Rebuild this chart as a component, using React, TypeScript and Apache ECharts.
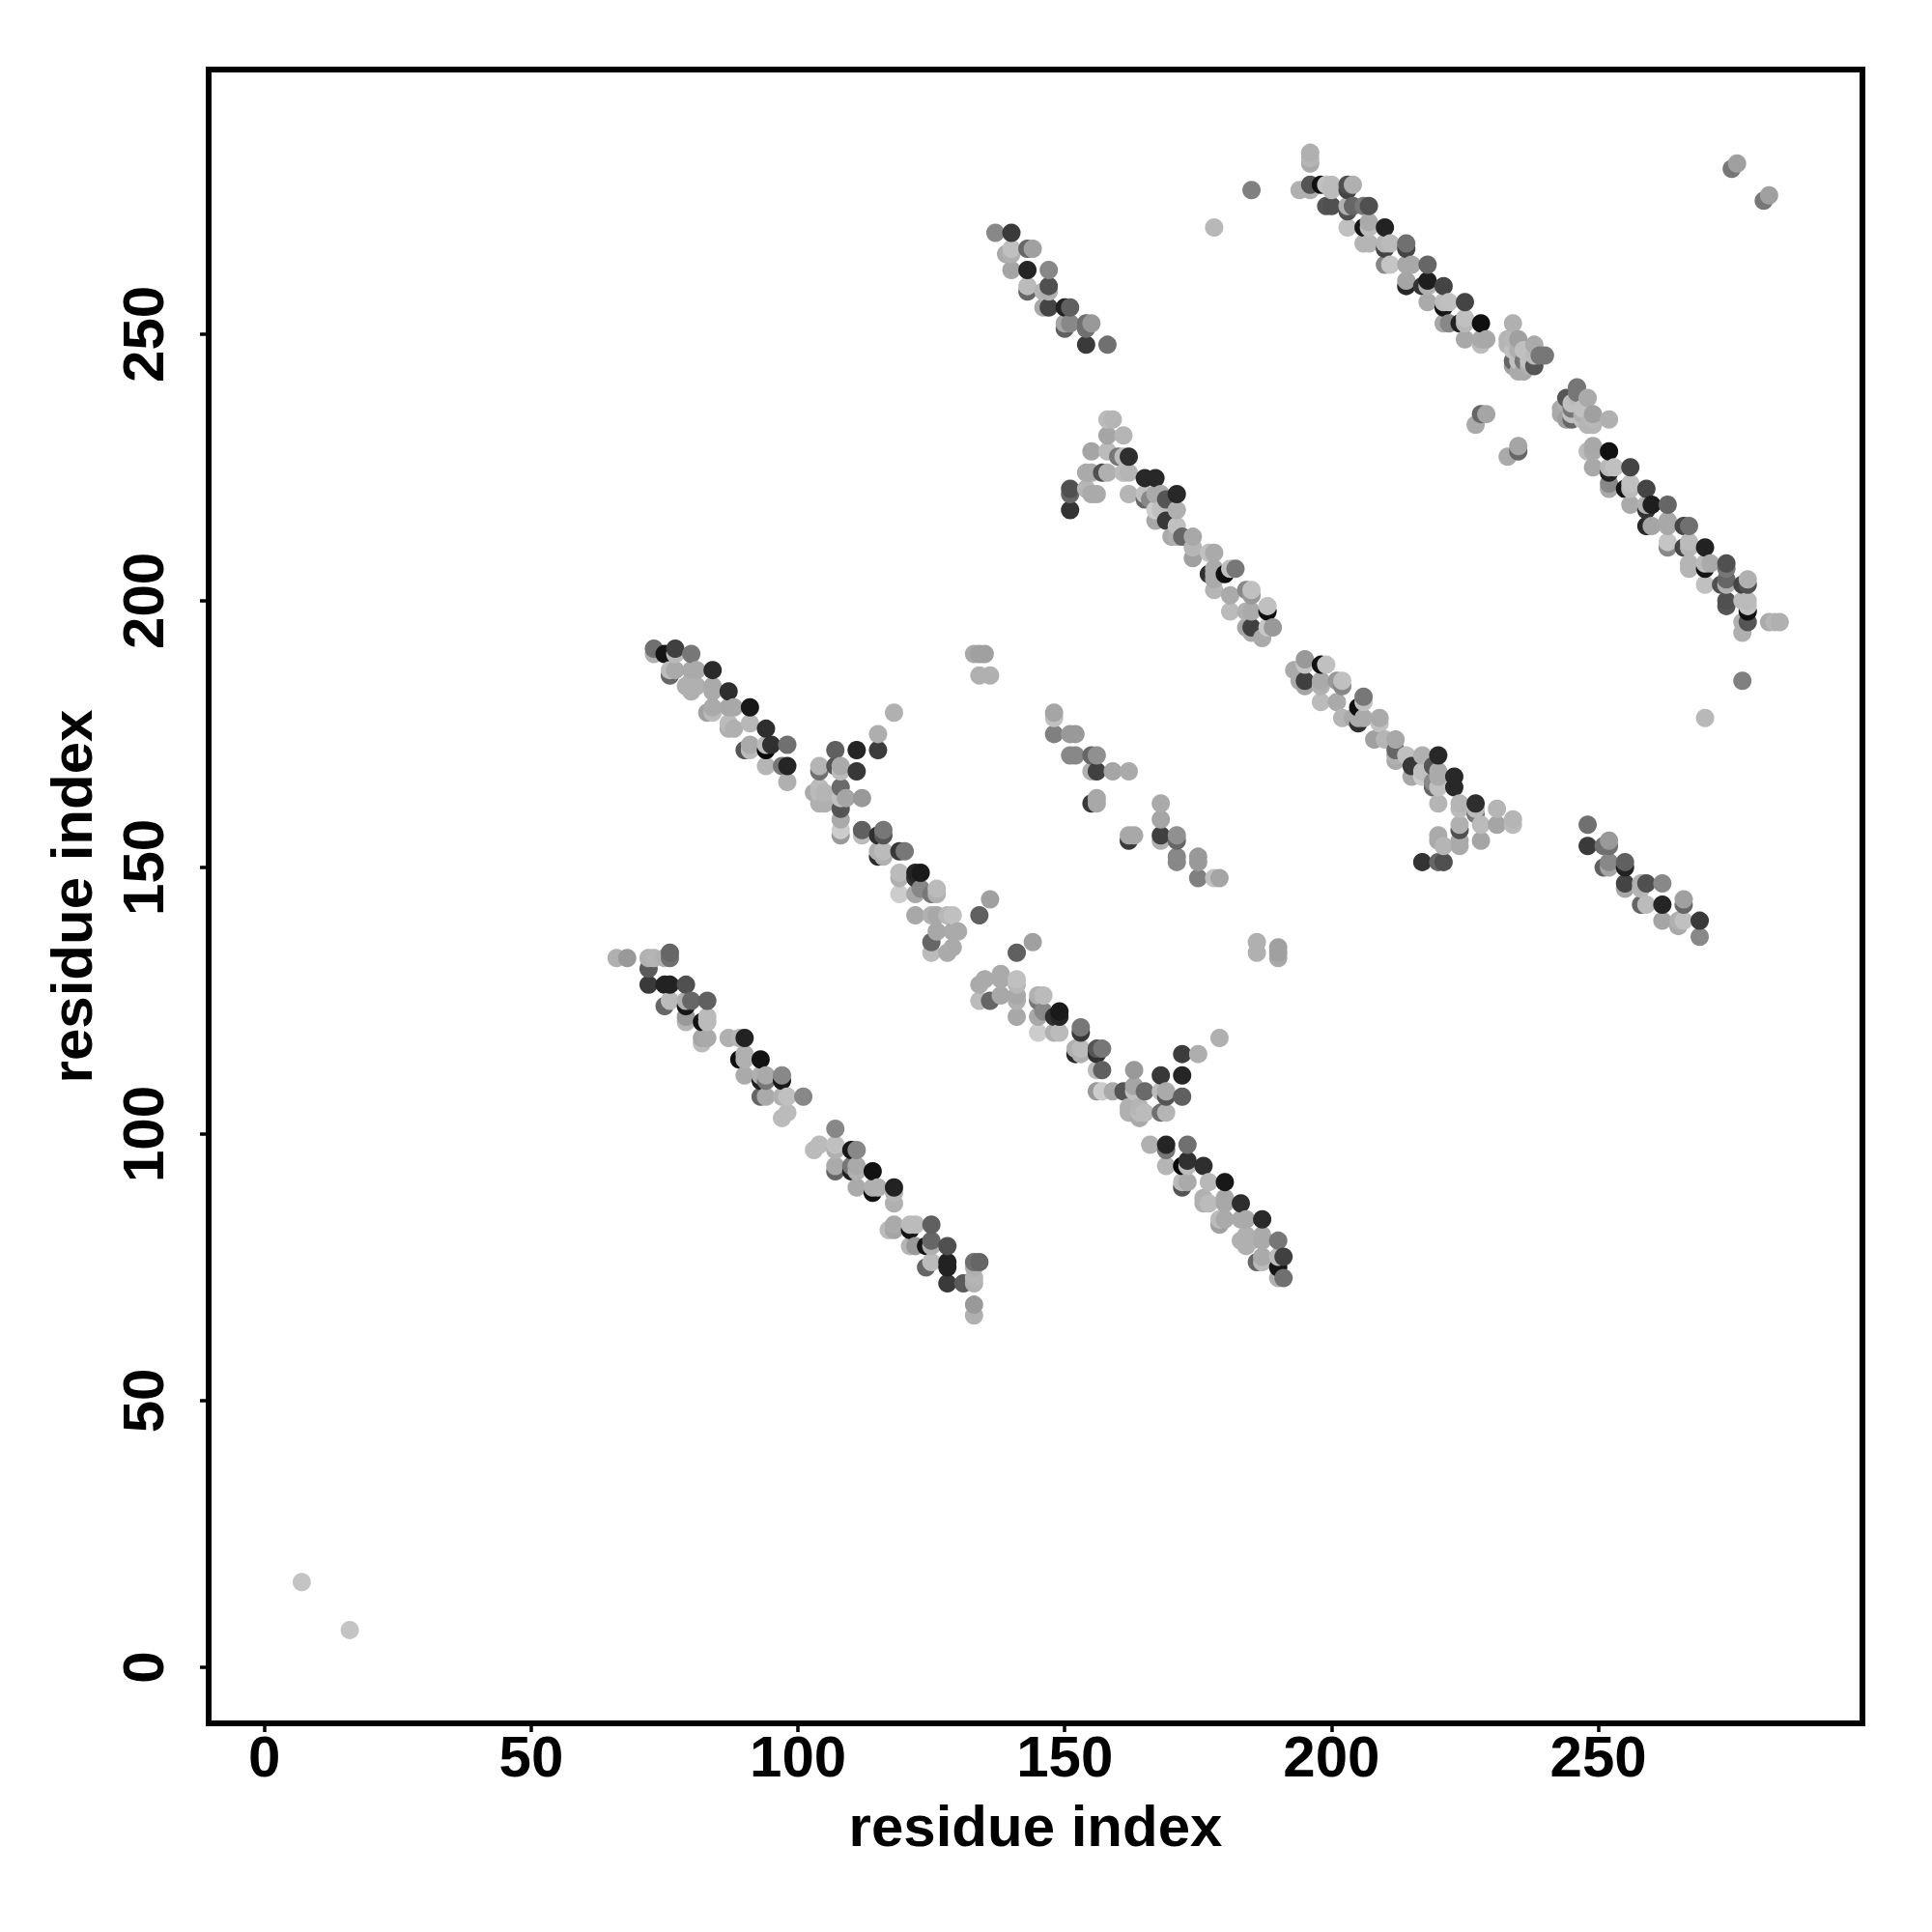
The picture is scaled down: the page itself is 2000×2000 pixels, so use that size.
import React, { useEffect, useRef } from "react";
import * as echarts from "echarts";

// Each entry: [residue i, residue j, grey shade 0-255]. The contact map is symmetric,
// so each contact read from the upper-left half is drawn at (i,j) and (j,i).
type Contact = [number, number, number];

const tickValues = [0, 50, 100, 150, 200, 250];
const axisName = "residue index";

const isolated: Contact[] = [
  [7, 16, 0xc4], [185, 277, 0x80], [178, 270, 0xb8], [275, 281, 0x77], [276, 282, 0xa0],
  [133, 190, 0xa8], [134, 190, 0xa0], [135, 190, 0xa0], [134, 186, 0xb0], [136, 186, 0xb0],
  [196, 284, 0xb0], [196, 283, 0xb5], [196, 282, 0xaa],
];

const helixA: Contact[] = [
  [66, 133, 0xb0], [68, 133, 0x99], [72, 133, 0xb0], [73, 133, 0xb4], [75, 133, 0xb0], [76, 133, 0x70], [76, 134, 0x66],
  [72, 131, 0x5a], [72, 128, 0x3a], [75, 128, 0x22], [76, 128, 0x22], [79, 128, 0x50],
  [75, 124, 0x66], [76, 125, 0xbb], [79, 124, 0x15], [79, 125, 0xb0], [80, 125, 0x66], [83, 125, 0x60],
  [79, 122, 0x99], [79, 121, 0xb5], [82, 121, 0x15], [83, 121, 0xbb], [83, 122, 0xbb],
  [82, 118, 0xa5], [82, 117, 0xbb], [83, 118, 0xaa], [87, 118, 0xb0], [89, 118, 0xb5], [90, 118, 0x22],
  [89, 114, 0x10], [90, 115, 0xb0], [90, 114, 0xb0], [93, 114, 0x12], [90, 111, 0xaa],
  [93, 110, 0x20], [93, 111, 0xb0], [94, 110, 0x77], [94, 111, 0xaa], [97, 110, 0x18], [97, 111, 0x88],
  [93, 107, 0x66], [94, 107, 0xaa], [97, 107, 0xb0], [98, 107, 0xc0], [101, 107, 0x88],
  [97, 103, 0xbb], [98, 104, 0xbb],
];

const helixB: Contact[] = [
  [73, 190, 0xb0], [73, 191, 0x70], [75, 190, 0x15], [77, 190, 0xbb], [77, 191, 0x40], [80, 190, 0x77],
  [76, 186, 0x66], [76, 187, 0xbb], [77, 187, 0xaa], [80, 187, 0xaa], [81, 187, 0xaa], [84, 187, 0x2a],
  [80, 185, 0xb0], [80, 183, 0xb0], [79, 184, 0xb0], [81, 184, 0xb0], [84, 183, 0xaa], [84, 184, 0xaa], [87, 183, 0x2e],
  [83, 179, 0xa0], [84, 179, 0xbb], [84, 180, 0xaa], [87, 180, 0xa8], [88, 180, 0xa8], [91, 180, 0x18],
  [87, 176, 0xb0], [87, 177, 0xbb], [88, 176, 0xb0], [91, 177, 0xb8], [94, 176, 0x2e],
  [90, 172, 0x55], [91, 172, 0xbb], [91, 173, 0xaa], [94, 172, 0x08], [94, 173, 0xbb], [95, 173, 0x30], [98, 173, 0x70],
  [94, 169, 0xb5], [97, 169, 0x77], [98, 169, 0x25], [98, 166, 0xb0],
  [118, 179, 0xb0], [115, 175, 0xae], [107, 172, 0x60], [111, 172, 0x25], [115, 172, 0x3c],
  [104, 168, 0x70], [104, 169, 0xb5], [107, 169, 0x55], [108, 168, 0xbb], [108, 169, 0xaa], [111, 168, 0x38],
  [103, 164, 0xaa], [104, 164, 0xbb], [104, 165, 0xbb], [105, 164, 0xb5], [104, 162, 0xb0], [105, 162, 0xb0],
  [108, 161, 0x55], [108, 163, 0xc0], [108, 165, 0x6a], [109, 163, 0xa5], [112, 163, 0x99],
  [108, 159, 0xaa], [108, 156, 0x99], [108, 157, 0xcc], [112, 156, 0xbb], [112, 157, 0x60],
  [115, 156, 0x30], [116, 156, 0x55], [116, 157, 0x77],
  [115, 152, 0x2a], [115, 153, 0xb0], [116, 152, 0xb0], [116, 153, 0xbb], [119, 153, 0x38], [120, 153, 0x77],
  [119, 148, 0xb0], [119, 149, 0xbb], [122, 148, 0x30], [122, 149, 0x25], [123, 149, 0x1a],
  [119, 145, 0xcc], [122, 145, 0xa8], [123, 146, 0x88], [125, 145, 0x77], [126, 145, 0xb0], [126, 146, 0xbb],
  [122, 141, 0xa8], [125, 141, 0xb0], [126, 141, 0xa8], [128, 141, 0xb8], [129, 141, 0xc0],
  [134, 141, 0x60], [136, 144, 0xa0],
  [126, 138, 0xa8], [129, 138, 0xaa], [130, 138, 0xaa], [125, 136, 0x66], [129, 135, 0xaa], [125, 134, 0xbb], [128, 134, 0xaa],
];

const helixC: Contact[] = [
  [137, 269, 0x88], [140, 269, 0x3a], [139, 265, 0xaa], [140, 265, 0xb0], [140, 266, 0xc0], [143, 266, 0x66], [144, 266, 0xa0],
  [140, 262, 0xa5], [143, 262, 0x25], [147, 262, 0x88], [143, 258, 0x66], [143, 259, 0xbb],
  [146, 258, 0xb5], [147, 258, 0xb0], [147, 259, 0x50], [146, 255, 0xa8], [147, 255, 0x44], [150, 255, 0x22], [151, 255, 0x60],
  [150, 251, 0x60], [150, 252, 0xa5], [151, 252, 0x88], [154, 251, 0x70], [154, 252, 0x70], [155, 252, 0x99],
  [154, 248, 0x3a], [158, 248, 0x70],
];

const helixD: Contact[] = [
  [158, 234, 0xbb], [159, 234, 0xb5], [158, 231, 0xa5], [161, 231, 0xb5],
  [155, 228, 0xa5], [158, 228, 0xbb], [160, 227, 0x77], [161, 227, 0xbb], [162, 227, 0x2e],
  [154, 224, 0xaa], [155, 224, 0xaa], [157, 224, 0x50], [158, 224, 0xb0], [161, 224, 0xbb], [162, 224, 0xb5],
  [151, 220, 0x66], [151, 221, 0x50], [151, 217, 0x33], [154, 221, 0xb5], [155, 220, 0xaa], [156, 220, 0xaa], [162, 220, 0xb5],
  [165, 223, 0x28], [167, 223, 0x28], [165, 219, 0x66], [165, 220, 0xc0], [166, 219, 0x88], [167, 220, 0xaa], [168, 220, 0xaa],
  [169, 219, 0x55], [171, 220, 0x28], [167, 215, 0xa8], [167, 217, 0xcc], [168, 217, 0xc0], [169, 215, 0x38], [171, 217, 0xb0],
  [170, 212, 0xaa], [171, 212, 0xb0], [171, 214, 0xc0], [172, 212, 0x66], [174, 212, 0xa8],
  [174, 208, 0xa0], [174, 210, 0xb5], [177, 209, 0xc0], [178, 209, 0xaa],
  [177, 205, 0x30], [178, 204, 0xaa], [178, 205, 0xaa], [178, 206, 0xaa], [178, 202, 0xb5],
  [180, 205, 0x10], [181, 206, 0xc0], [182, 206, 0x77], [181, 201, 0xaa], [184, 202, 0x88], [185, 201, 0x99], [185, 202, 0xc0],
  [181, 198, 0xbb], [184, 198, 0xb0], [185, 198, 0xaa], [188, 198, 0x10], [188, 199, 0xc0],
  [184, 195, 0xa5], [185, 194, 0xaa], [185, 195, 0x40], [188, 195, 0xc5], [189, 195, 0x99], [187, 193, 0xaa],
];

const helixE: Contact[] = [
  [148, 178, 0xc0], [148, 179, 0xa5], [148, 175, 0x80], [151, 175, 0x99], [152, 175, 0x99],
  [151, 171, 0x88], [152, 171, 0x88], [155, 171, 0x66], [156, 171, 0x90],
  [155, 168, 0xb0], [156, 168, 0x40], [159, 168, 0xa5], [162, 168, 0xaa],
  [155, 162, 0x3a], [156, 162, 0xa8], [156, 163, 0xa8],
];

const helixF: Contact[] = [
  [194, 277, 0xb0], [196, 277, 0xb0], [196, 278, 0x55], [198, 278, 0x10], [199, 278, 0xc0], [200, 277, 0xbb], [200, 278, 0xbb],
  [203, 277, 0x44], [203, 278, 0x50], [204, 278, 0xb0],
  [199, 274, 0x55], [200, 274, 0x50], [203, 273, 0x50], [203, 274, 0xb0], [204, 274, 0x66], [206, 274, 0x77], [207, 274, 0x50],
  [203, 270, 0xc0], [206, 270, 0x15], [207, 270, 0xbb], [207, 271, 0xaa], [210, 270, 0x22],
  [206, 267, 0xb5], [207, 267, 0xb5], [210, 266, 0x44], [210, 267, 0xb5], [211, 267, 0xbb], [214, 266, 0x44], [214, 267, 0x70],
  [210, 263, 0x88], [211, 263, 0xc5], [214, 263, 0xa8], [215, 263, 0xa8], [218, 263, 0x66],
  [214, 259, 0x28], [214, 260, 0xa5], [217, 259, 0x33], [218, 259, 0xb0], [218, 260, 0x1e], [221, 259, 0x44],
  [218, 256, 0xaa], [221, 255, 0x15], [221, 256, 0xbb], [222, 256, 0xc0], [225, 256, 0x44],
  [221, 252, 0xa8], [222, 252, 0x88], [224, 252, 0x22], [225, 252, 0xb8], [225, 253, 0xc0], [228, 252, 0x10],
  [225, 249, 0xa8], [228, 248, 0xbb], [228, 249, 0xaa], [229, 249, 0xa8],
  [234, 252, 0xb0], [233, 248, 0xb5], [233, 249, 0xb5], [234, 249, 0xb8], [235, 249, 0xa0],
  [234, 245, 0x66], [234, 247, 0xc0], [235, 247, 0xb0], [236, 247, 0xc0], [238, 248, 0xaa],
  [234, 244, 0xa0], [235, 243, 0xaa], [236, 243, 0xaa], [235, 245, 0xc0], [236, 245, 0x77], [237, 244, 0xb0], [237, 245, 0xc0],
  [238, 244, 0x55], [238, 246, 0xbb], [239, 246, 0x77], [240, 246, 0x77],
  [228, 235, 0x66], [229, 235, 0xa5], [227, 233, 0xaa],
];

const contacts: Contact[] = [...isolated, ...helixA, ...helixB, ...helixC, ...helixD, ...helixE, ...helixF];
const points = contacts
  .flatMap(([i, j, s]) => [[i, j, s], [j, i, s]])
  .sort((a, b) => a[0] - b[0] || a[1] - b[1]);

export default function App() {
  const ref = useRef<HTMLDivElement>(null);
  useEffect(() => {
    const chart = echarts.init(ref.current!, undefined, { renderer: "svg" });
    const font = { fontFamily: "Liberation Sans", fontWeight: "bold" as const, fontSize: 60, color: "#000" };
    const tickLine = { color: "#000", width: 3.5 };
    chart.setOption({
      animation: false,
      backgroundColor: "#fff",
      grid: { left: 216, top: 72, width: 1712, height: 1712, show: true, borderColor: "#000", borderWidth: 6, backgroundColor: "transparent" },
      visualMap: { show: false, type: "continuous", min: 0, max: 255, dimension: 2, seriesIndex: 0, inRange: { color: ["#000000", "#ffffff"] } },
      xAxis: {
        type: "value", min: -10.45, max: 299.5, name: axisName, nameLocation: "middle", nameGap: 76,
        nameTextStyle: font, splitLine: { show: false }, axisLine: { show: false, onZero: false },
        axisTick: { show: true, length: 9, customValues: tickValues, lineStyle: tickLine },
        axisLabel: { ...font, margin: 4, customValues: tickValues, hideOverlap: false },
      },
      yAxis: {
        type: "value", min: -10.5, max: 299.6, name: axisName, nameLocation: "middle", nameGap: 112,
        nameTextStyle: font, splitLine: { show: false }, axisLine: { show: false, onZero: false },
        axisTick: { show: true, length: 9, customValues: tickValues, lineStyle: tickLine },
        axisLabel: { ...font, margin: 38, rotate: 90, customValues: tickValues, hideOverlap: false },
      },
      series: [{ type: "scatter", data: points, symbol: "circle", symbolSize: 19, silent: true, itemStyle: { opacity: 1 } }],
    });
    return () => chart.dispose();
  }, []);
  return <div ref={ref} style={{ position: "absolute", left: 0, top: 0, width: 2000, height: 2000 }} />;
}
